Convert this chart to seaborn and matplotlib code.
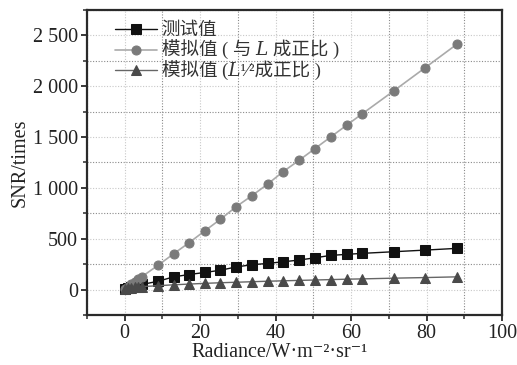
import matplotlib
matplotlib.use("Agg")
import matplotlib.pyplot as plt
import seaborn as sns
import pandas as pd
from matplotlib.ticker import MultipleLocator, FuncFormatter

sns.set_style("ticks")
plt.rcParams['font.family'] = ['Liberation Serif', 'Noto Sans CJK SC', 'DejaVu Serif', 'DejaVu Sans']

radiance = [0.1, 0.9, 1.8, 2.7, 3.6, 4.6, 8.9, 13.0, 17.1, 21.2, 25.4, 29.5,
            33.7, 37.9, 42.0, 46.2, 50.4, 54.6, 58.8, 63.0, 71.3, 79.6, 88.0]
snr_measured = [10, 18, 26, 33, 40, 50, 82, 125, 148, 168, 190, 222,
                244, 257, 273, 290, 312, 336, 346, 356, 372, 388, 405]
snr_sim_L = [5, 27, 50, 75, 100, 127, 240, 352, 461, 576, 691, 813,
             922, 1037, 1159, 1270, 1385, 1500, 1615, 1729, 1953, 2180, 2411]
snr_sim_sqrtL = [4, 12, 18, 22, 26, 29, 38, 47, 54, 61, 67, 72,
                 77, 82, 86, 90, 94, 98, 102, 105, 112, 118, 125]

labels = ["测试值", "模拟值 ( 与 𝐿 成正比 )", "模拟值 (𝐿¹⁄²成正比 )"]

fig = plt.figure(figsize=(5.17, 3.65), dpi=100)
ax = fig.add_axes([0.168, 0.137, 0.803, 0.836])

df = pd.DataFrame({"x": radiance, "m": snr_measured, "l": snr_sim_L, "s": snr_sim_sqrtL})

sns.lineplot(data=df, x="x", y="m", ax=ax, color="#111111", marker="s",
             markersize=6.5, markeredgecolor="#111111", linewidth=1.0, label=labels[0])
sns.lineplot(data=df, x="x", y="l", ax=ax, color="#aaaaaa", marker="o",
             markersize=6.5, markerfacecolor="#7a7a7a", markeredgecolor="#7a7a7a",
             linewidth=1.2, label=labels[1])
sns.lineplot(data=df, x="x", y="s", ax=ax, color="#666666", marker="^",
             markersize=7, markerfacecolor="#4a4a4a", markeredgecolor="#4a4a4a",
             linewidth=1.0, label=labels[2])

ax.set_xlim(-10, 100)
ax.set_ylim(-250, 2750)
ax.xaxis.set_major_locator(MultipleLocator(20))
ax.xaxis.set_minor_locator(MultipleLocator(10))
ax.yaxis.set_major_locator(MultipleLocator(500))
ax.yaxis.set_minor_locator(MultipleLocator(250))

def yfmt(v, pos):
    v = int(round(v))
    if v < 0:
        return ""
    return f"{v:,}".replace(",", " ")
ax.yaxis.set_major_formatter(FuncFormatter(yfmt))

ax.grid(which='major', color='#c8c8c8', linestyle=(0, (1, 1.5)), linewidth=0.8)
ax.grid(which='minor', color='#8a8a8a', linestyle=(0, (1, 1.5)), linewidth=0.8)
ax.set_axisbelow(True)

for sp in ax.spines.values():
    sp.set_color('#2a2a2a')
    sp.set_linewidth(1.6)
ax.tick_params(which='major', direction='out', length=4.5, width=1.3, color='#2a2a2a',
               labelsize=14.5, labelcolor='#222222', pad=2)
ax.tick_params(which='minor', direction='out', length=3, width=1.1, color='#2a2a2a')

ax.set_xlabel("Radiance/W·m⁻²·sr⁻¹", fontsize=14.5, color='#222222')
ax.xaxis.set_label_coords((280 - 87) / 415, -0.093)
ax.set_ylabel("SNR/times", fontsize=14.5, color='#222222', labelpad=2)

leg = ax.legend(loc='upper left', frameon=False, fontsize=13.3, handlelength=2.3,
                handletextpad=0.25, labelspacing=0.03, borderaxespad=0.2,
                bbox_to_anchor=(0.04, 0.995))
for t in leg.get_texts():
    t.set_color('#333333')

fig.savefig("out.png", dpi=100)
